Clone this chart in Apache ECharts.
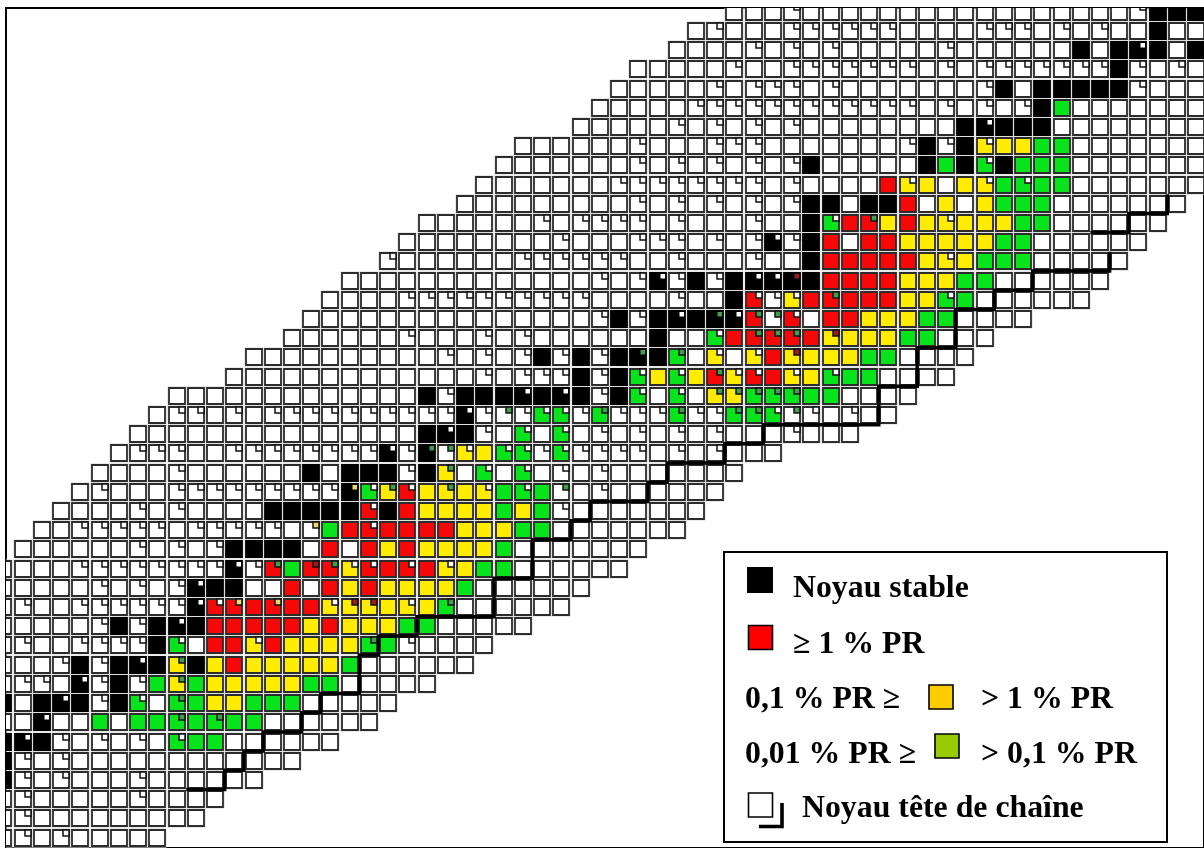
<!DOCTYPE html>
<html><head><meta charset="utf-8">
<style>html,body{margin:0;padding:0;background:#fff}#c{width:1204px;height:848px}</style>
<script src="https://cdn.jsdelivr.net/npm/echarts@6/dist/echarts.min.js"></script>
</head><body><div id="c"></div>
<script>
// w white, k stable, r >=1%, y 0.1-1%, g 0.01-0.1%; capital = isomer corner mark; a number repeats the next letter
// rowData[i] = [first column, cells] for row i counted from the bottom
const rowData = [
[-1,"wWwW5w"],
[-1,"wW9w"],
[-1,"wW5wW4w"],
[-1,"kWwW3wW6w"],
[-1,"kWwW12w"],
[-1,"kKkWwWwWwG2g6w"],
[-1,"2wK2wgw2gGgG2g6w"],
[-1,"kwkKkWkGwGg2y3g5w"],
[-1,"w2WwKWkWgYg5y2g5w"],
[-1,"3wWkWkKkYkyr5yg6w"],
[-1,"wW2w4WkGw2rYr4yGgW4w"],
[-1,"5wWkWkKk5ryr3y2g5w"],
[-1,"wW2w6WK2RrR2r3YyYyG6w"],
[-1,"5wWwWwWK2k2wrwryr4yg6w"],
[-1,"4w8WKWRg2RYRrRrYy2g6w"],
[0,"6wWwWwW4kwrwryr4yg7w"],
[1,"2w5Ww5WwWgrR4r3y2g7w"],
[2,"4wWwW4w5kRkr4ygygW7w"],
[3,"wW3w9WKGYRyYyYgGgWwW6w"],
[4,"4wW6wkw3kWkYwGwGwWwW7w"],
[5,"w3W2w8WKWKWYy2GWG4WwWwW3w"],
[6,"15wkKkWwGwGwWwWwWwW3wW3w"],
[7,"w2WwWw10WK3W2GWG3WG2W3G2WwW2w"],
[8,"13wkW3kKkKkWkGwGw2Y3G2g4w"],
[11,"13wWw3WkWkGyGyRYRrYyG2g4w"],
[12,"10wWwWwWkWkWkKkGwYwYrY3y2g4w"],
[14,"6wW3wWwW6wk2wGr3RrY3y2g3w"],
[15,"15wWkWkKk2KRWRw2r3y2g4w"],
[16,"4w10W4wW2wkRWYrR3r2yGg6w"],
[17,"13wWwWKWkWk3Kk4r3y2g6w"],
[19,"W6w6W2wW3wW2wk5ryYy3g5w"],
[20,"8wW3w3WwWwWKWkrw2r5y2g6w"],
[21,"6wWw4WwW3wW2wkGrRyryY3y2g6w"],
[23,"9wWwWwWwWwW2kw2krwywy3g7w"],
[24,"7w8WwW4wrYywyYgG2g7w"],
[25,"7wWwWwWwWwWk5wkgkGk3g7w"],
[26,"6wW3w3W7wWkWkY2y2g7w"],
[29,"5wWwWwWwW8wkK3k8w"],
[30,"5w12WwWwWwWkg7w"],
[31,"5wWw3WwW7wWkw5kW3w"],
[32,"5wW2w7WwWw7WkWwWw"],
[34,"4wWwWwW5wW6wkwkKkwk"],
[35,"wW3w6W4w3WwWwW2wk2w"],
[37,"3wW17wW3k"]
];
// corner marks that are not white: [column, row]
const greenMarks = [[13,14],[16,14],[8,9],[8,8],[8,7],[8,6],[10,6],[22,12],[18,10],[19,18],[22,18],[21,20],[22,20],[22,19],[28,18],[25,22],[44,32],[42,28],[36,27],[38,27],[39,27],[38,26],[39,26],[40,26],[32,25],[34,25],[36,24],[36,23],[37,23],[38,23],[39,23],[40,23],[34,22],[37,22],[38,22],[40,22],[30,22]];
const yellowMarks = [[11,12],[13,12],[15,16],[17,18]];
const redMarks = [[15,14],[17,12],[18,12],[40,29],[42,26],[40,25]];
// bound of the chain heads, two runs of steps, in cell units
const stairTop = [[59.5,33.5],[59.5,32.5],[57.5,32.5],[57.5,31.5],[55.5,31.5]];
const stairMain = [[56.5,30.5],[56.5,29.5],[52.5,29.5],[52.5,28.5],[50.5,28.5],[50.5,27.5],[48.5,27.5],[48.5,25.5],[46.5,25.5],[46.5,23.5],[44.5,23.5],[44.5,21.5],[38.5,21.5],[38.5,20.5],[36.5,20.5],[36.5,19.5],[33.5,19.5],[33.5,18.5],[32.5,18.5],[32.5,17.5],[29.5,17.5],[29.5,16.5],[28.5,16.5],[28.5,15.5],[26.5,15.5],[26.5,13.5],[24.5,13.5],[24.5,11.5],[20.5,11.5],[20.5,10.5],[18.5,10.5],[18.5,9.5],[17.5,9.5],[17.5,7.5],[15.5,7.5],[15.5,6.5],[14.5,6.5],[14.5,5.5],[12.5,5.5],[12.5,4.5],[11.5,4.5],[11.5,3.5],[10.5,3.5],[10.5,2.5],[8.5,2.5]];
const legendLabels = ["Noyau stable","≥ 1 % PR","0,1 % PR ≥","> 1 % PR","0,01 % PR ≥","> 0,1 % PR","Noyau tête de chaîne"];

const fills = {w:'#ffffff',k:'#000000',r:'#f60808',y:'#ffec00',g:'#08e41c'};
const markTint = {};
greenMarks.forEach(m=>markTint[m[0]+'_'+m[1]]='#3f9f4c');
yellowMarks.forEach(m=>markTint[m[0]+'_'+m[1]]='#efd66a');
redMarks.forEach(m=>markTint[m[0]+'_'+m[1]]='#a11a1a');
const cells = [];
rowData.forEach((row,r)=>{
  const text=row[1].replace(/(\d+)([a-zA-Z])/g,(m,n,ch)=>ch.repeat(+n));
  Array.from(text).forEach((ch,i)=>{
    const c=row[0]+i, low=ch.toLowerCase();
    cells.push({value:[c,r],kind:low,mark:ch!==low,tint:markTint[c+'_'+r]||'#ffffff'});
  });
});
function cellItem(params,api){
  const d=cells[params.dataIndex];
  const p=api.coord([api.value(0),api.value(1)]);
  const x=Math.round(p[0]-8), y=Math.round(p[1]-8), w=16;
  const kids=[
    {type:'rect',shape:{x:x-1.6,y:y-1.6,width:19.2,height:19.2},style:{fill:'#dadada'}},
    {type:'rect',shape:{x:x,y:y,width:w,height:w},style:{fill:fills[d.kind],stroke:d.kind==='k'?'#000':'#2c2c2c',lineWidth:1.8}}
  ];
  if(d.mark){
    const m=d.kind==='k'?4.5:6;
    const inset=d.kind==='k'?1:0;
    kids.push({type:'rect',shape:{x:x+w-m-inset,y:y+inset,width:m,height:m},style:{fill:d.tint,stroke:d.kind==='k'?null:'#111',lineWidth:d.kind==='k'?0:1.5}});
  }
  return {type:'group',children:kids};
}
const serif='"Liberation Serif","Times New Roman",serif';
function label(i,x,y){return {type:'text',x:x,y:y-20.5,style:{text:legendLabels[i],font:'bold 31.8px '+serif,fill:'#000'}};}
function box(x,y,w,h,fill,stroke,lw){return {type:'rect',shape:{x:x,y:y,width:w,height:h},style:{fill:fill,stroke:stroke,lineWidth:lw}};}
const chart=echarts.init(document.getElementById('c'),null,{renderer:'canvas'});
const xOf=px=>(px-22.7)/19.27, yOf=py=>(839.5-py)/19.25;
chart.setOption({
  animation:false,
  backgroundColor:'#fff',
  grid:{show:true,left:6,top:8,width:1200,height:842,borderColor:'#000',borderWidth:2,backgroundColor:'#fff'},
  xAxis:{type:'value',min:xOf(6),max:xOf(1206),show:false},
  yAxis:{type:'value',min:yOf(850),max:yOf(8),show:false},
  series:[
    {type:'custom',clip:true,silent:true,renderItem:cellItem,data:cells.map(d=>d.value),z:2},
    {type:'line',data:stairTop,showSymbol:false,symbol:'none',lineStyle:{color:'#000',width:3.5,join:'miter'},z:3,silent:true},
    {type:'line',data:stairMain,showSymbol:false,symbol:'none',lineStyle:{color:'#000',width:3.5,join:'miter'},z:3,silent:true}
  ],
  graphic:{elements:[
    {type:'group',z:100,children:[
      box(724,552,443,290,'#fff','#000',2),
      box(747,567,26,26,'#000','#000',0),
      box(748.5,625.5,24,24,'#ff0000','#000',1.6),
      box(929,685,24,24,'#ffcc00','#000',1.6),
      box(935,734,24,24,'#99cc00','#000',1.6),
      box(748.5,793,24,24,'#fff','#000',1.6),
      {type:'polyline',shape:{points:[[759,826.5],[782,826.5],[782,803]]},style:{stroke:'#000',lineWidth:3.6,fill:null}},
      label(0,793,593),label(1,793,649),label(2,745,704),label(3,981,704),label(4,745,759),label(5,981,759),label(6,802,813)
    ]}
  ]}
});
</script></body></html>
